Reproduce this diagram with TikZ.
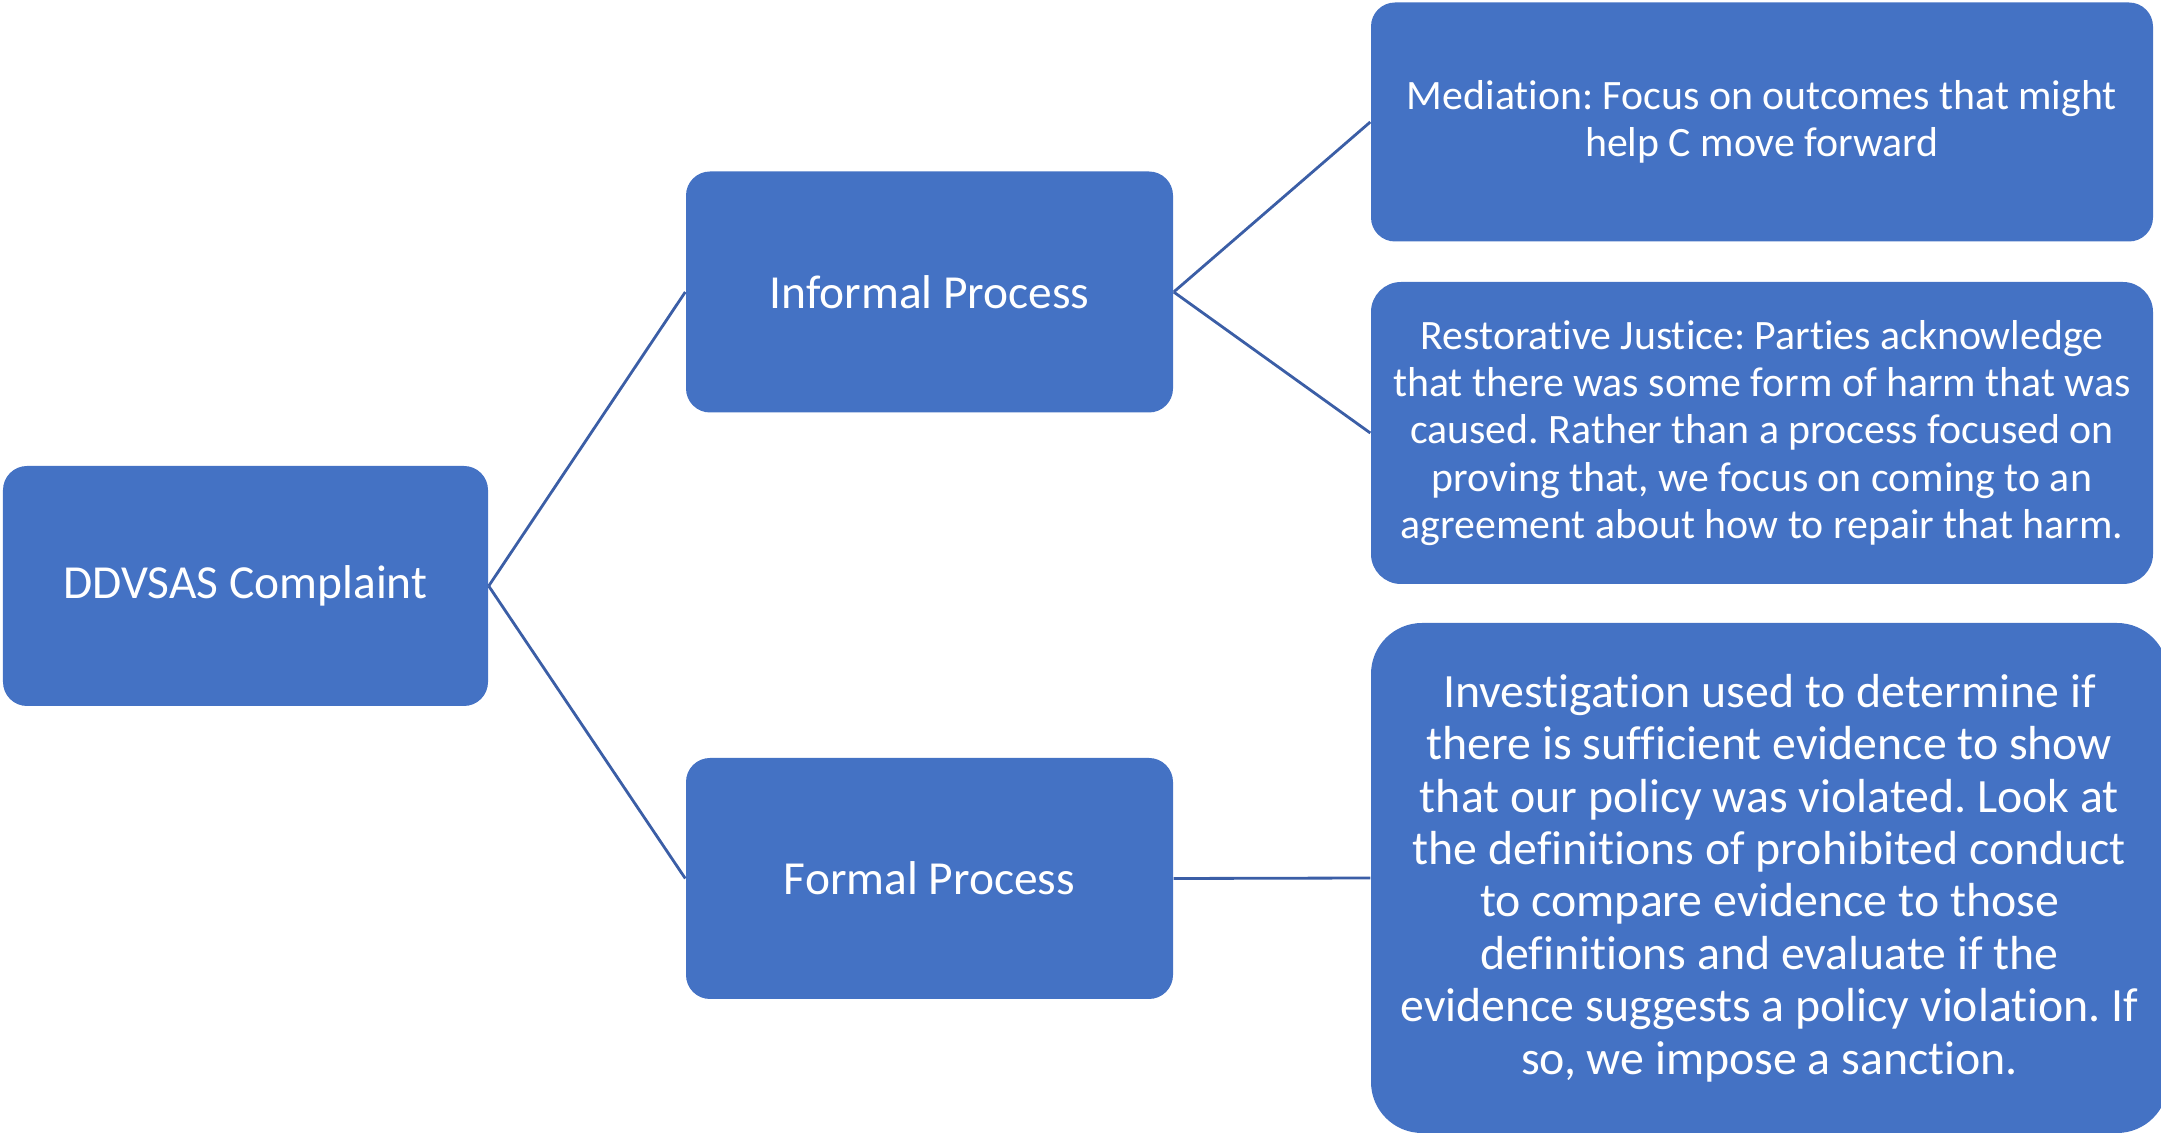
\documentclass[tikz,border=0pt]{standalone}
\usepackage{fontspec}
\setmainfont{Carlito}[Ligatures=NoCommon]
\definecolor{boxblue}{HTML}{4472C4}
\definecolor{lineblue}{HTML}{3B5EA6}
\frenchspacing

\begin{document}
\begin{tikzpicture}[
  box/.style={rectangle, fill=boxblue, text=white, align=center, inner sep=0pt},
  link/.style={draw=lineblue, line width=0.8pt}
]
  % Canvas
  \useasboundingbox (0,0) rectangle (21.61,11.34);

  % Root
  \node[box, minimum width=4.85cm, minimum height=2.40cm, rounded corners=0.24cm,
        font=\fontsize{13.5}{16}\selectfont] (complaint) at (2.455,5.48) {DDVSAS Complaint};

  % Processes
  \node[box, minimum width=4.87cm, minimum height=2.41cm, rounded corners=0.24cm,
        font=\fontsize{13.5}{16}\selectfont] (informal) at (9.295,8.42) {Informal Process};
  \node[box, minimum width=4.87cm, minimum height=2.41cm, rounded corners=0.24cm,
        font=\fontsize{13.5}{16}\selectfont] (formal) at (9.295,2.555) {Formal Process};

  % Outcomes
  \node[box, minimum width=7.82cm, minimum height=2.39cm, rounded corners=0.24cm,
        font=\fontsize{11.9}{13.4}\selectfont] (mediation) at (17.62,10.12)
    {Mediation: Focus on outcomes that might\\help C move forward};
  \node[box, minimum width=7.82cm, minimum height=3.02cm, rounded corners=0.30cm,
        font=\fontsize{11.9}{13.4}\selectfont] (restorative) at (17.62,7.01)
    {Restorative Justice: Parties acknowledge\\that there was some form of harm that was\\caused. Rather than a process focused on\\proving that, we focus on coming to an\\agreement about how to repair that harm.};
  \node[box, minimum width=7.97cm, minimum height=5.10cm, rounded corners=0.51cm,
        font=\fontsize{13.6}{14.9}\selectfont] (investigation) at (17.695,2.56)
    {Investigation used to determine if\\there is sufficient evidence to show\\that our policy was violated. Look at\\the definitions of prohibited conduct\\to compare evidence to those\\definitions and evaluate if the\\evidence suggests a policy violation. If\\so, we impose a sanction.};

  % Connectors
  \draw[link] (complaint.east) -- (informal.west);
  \draw[link] (complaint.east) -- (formal.west);
  \draw[link] (informal.east) -- (mediation.west);
  \draw[link] (informal.east) -- (restorative.west);
  \draw[link] (formal.east) -- (investigation.west);

\end{tikzpicture}
\end{document}
